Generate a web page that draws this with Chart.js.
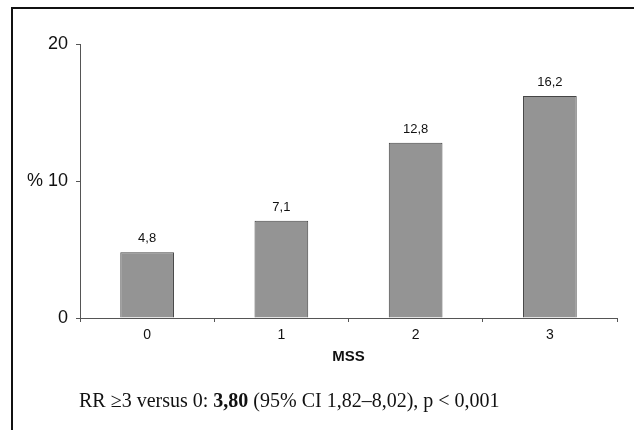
<!DOCTYPE html>
<html>
<head>
<meta charset="utf-8">
<script src="https://cdn.jsdelivr.net/npm/chart.js@4"></script>
<style>
  html, body { margin: 0; padding: 0; background: #fff; }
  #wrap { position: relative; width: 634px; height: 430px; overflow: hidden; }
  #frame { position: absolute; left: 11px; top: 7px; width: 640px; height: 440px;
           border-left: 2px solid #111; border-top: 2px solid #111; }
  canvas { position: absolute; left: 0; top: 0; }
  #caption { position: absolute; left: 79px; top: 389px; font-family: "Liberation Serif", "Times New Roman", serif;
             font-size: 20px; color: #111; white-space: nowrap; }
</style>
</head>
<body>
<div id="wrap">
  <div id="frame"></div>
  <canvas id="c" width="634" height="430"></canvas>
  <div id="caption">RR ≥3 versus 0: <b>3,80</b> (95% CI 1,82–8,02), p &lt; 0,001</div>
</div>
<script>
const categories = ["0", "1", "2", "3"];
const values = [4.8, 7.1, 12.8, 16.2];
const valueLabels = ["4,8", "7,1", "12,8", "16,2"];
const yTickValues = [0, 10, 20];
const yTickLabels = ["0", "% 10", "20"];
const xTitle = "MSS";

const barLabels = {
  id: 'barLabels',
  afterDatasetsDraw(chart) {
    const ctx = chart.ctx;
    const meta = chart.getDatasetMeta(0);
    ctx.save();
    ctx.font = '13px "Liberation Sans", Arial, sans-serif';
    ctx.fillStyle = '#111';
    ctx.textAlign = 'center';
    ctx.textBaseline = 'bottom';
    meta.data.forEach((bar, i) => {
      ctx.fillText(valueLabels[i], bar.x, bar.y - 7);
    });
    ctx.restore();
  }
};

new Chart(document.getElementById('c'), {
  type: 'bar',
  data: {
    labels: categories,
    datasets: [{
      data: values,
      backgroundColor: '#949494',
      borderColor: '#454545',
      borderWidth: 1,
      barPercentage: 0.4,
      categoryPercentage: 1.0
    }]
  },
  options: {
    responsive: false,
    animation: false,
    devicePixelRatio: 1,
    layout: { padding: { left: 0, right: 17, top: 44, bottom: 0 } },
    plugins: { legend: { display: false }, tooltip: { enabled: false } },
    scales: {
      x: {
        offset: true,
        grid: { display: true, offset: true, drawOnChartArea: false, tickLength: 4, color: '#555' },
        border: { color: '#555', width: 1 },
        ticks: { font: { family: '"Liberation Sans", Arial, sans-serif', size: 14 }, color: '#111', padding: 5 },
        title: { display: true, text: xTitle, font: { family: '"Liberation Sans", Arial, sans-serif', size: 15, weight: 'bold' }, color: '#111', padding: { top: 4, bottom: 64 } },
        afterFit(scale) { scale.height = 112; }
      },
      y: {
        min: 0, max: 20,
        afterBuildTicks(scale) { scale.ticks = yTickValues.map(v => ({ value: v })); },
        grid: { display: true, drawOnChartArea: false, tickLength: 4, color: '#555' },
        border: { color: '#555', width: 1 },
        ticks: {
          font: { family: '"Liberation Sans", Arial, sans-serif', size: 18 }, color: '#111', padding: 8,
          callback(value) { const i = yTickValues.indexOf(value); return i >= 0 ? yTickLabels[i] : ''; }
        },
        afterFit(scale) { scale.width = 80; }
      }
    }
  },
  plugins: [barLabels]
});
</script>
</body>
</html>
